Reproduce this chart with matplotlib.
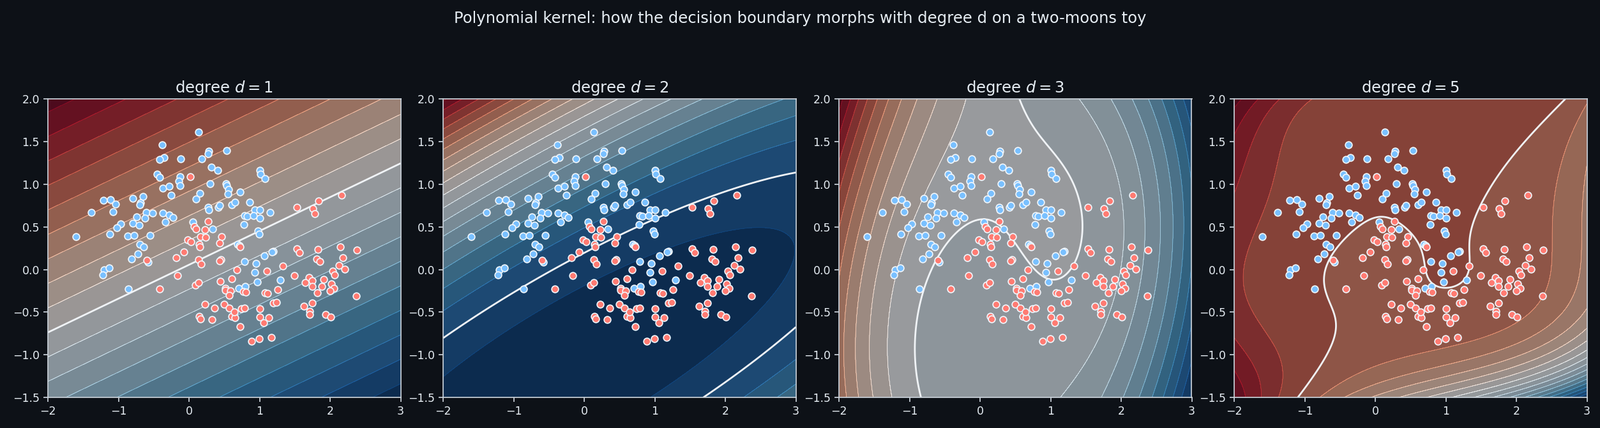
import numpy as np
import matplotlib
matplotlib.use("Agg")
import matplotlib.pyplot as plt

# ---------------- data ----------------
blue_x = [0.139, -0.377, -0.356, -0.413, -0.115, 0.181, 0.281, 0.272, 0.534, 0.32, 0.404, -0.456,
          -0.413, -0.124, -0.142, -0.124, 0.299, 0.522, 0.531, 0.561, 0.549, -0.368, -0.283, -0.25,
          0.157, 0.1, -1.213, -1.116, -1.038, -1.077, -1.382, -0.794, -0.652, -0.685, -0.697, -0.604,
          -0.513, -0.742, -0.622, -0.794, -0.706, -0.971, -1.026, -1.125, -1.599, -0.869, -0.778,
          -0.549, -0.368, -0.283, -0.223, -0.332, 0.269, 0.283, 0.419, 0.437, 0.057, 0.338, -0.70,
          -0.645,
          1.007, 1.017, 1.074, 0.727, 0.609, 0.652, 0.86, 0.929, 1.001, 1.152, 0.785, 0.821, 0.911,
          1.007, 0.781, 0.98, 0.992, 0.688, 0.712,
          -0.724, -0.812, -0.579, -1.207, -1.128, -1.219, -0.857,
          1.195, 1.18, 1.068, 0.79, 0.953, 0.935, 0.971, 1.297, 0.706, 0.799]
blue_y = [1.609, 1.46, 1.31, 1.29, 1.295, 1.295, 1.385, 1.36, 1.395, 1.20, 1.16, 1.12,
          1.078, 1.088, 1.033, 0.983, 1.006, 1.008, 0.985, 0.941, 0.886, 0.953, 0.974, 0.871,
          0.896, 0.824, 0.809, 0.817, 0.767, 0.677, 0.667, 0.834, 0.857, 0.78, 0.76, 0.672,
          0.662, 0.617, 0.605, 0.54, 0.523, 0.535, 0.488, 0.413, 0.385, 0.393, 0.4,
          0.4, 0.662, 0.642, 0.607, 0.555, 0.732, 0.7, 0.729, 0.752, 0.557, 0.475, 0.294,
          0.264,
          1.165, 1.12, 1.066, 0.906, 0.762, 0.792, 0.792, 0.697, 0.7, 0.67, 0.635, 0.625, 0.63,
          0.6, 0.53, 0.455, 0.413, 0.294, 0.279,
          0.184, 0.126, 0.084, -0.005, 0.017, -0.06, -0.227,
          0.214, 0.205, 0.161, 0.094, 0.074, -0.035, -0.143, -0.125, -0.217, -0.197]

red_x = [0.018, 0.072, 0.102, 0.271, 0.229, 0.163, 0.235, 0.464, 0.434, -0.015, 0.024, 0.148, 0.157,
         0.724, 1.532, 1.756, 1.84, 1.786, 2.166, 2.148,
         -0.594, -0.413, -0.178, -0.07, -0.163, 0.139, 0.175, 0.452, 0.434, 0.09, 0.139, 0.443,
         0.519, 0.514, 0.229, 0.362, 0.501, 0.142, 0.166, 0.323,
         0.679, 0.606, 0.585, 0.573, 0.573, 0.609, 0.649, 0.645, 0.727, 0.739, 0.79, 0.772, 0.808,
         1.104, 1.333, 1.529, 1.568, 1.831, 2.38, 1.807, 1.858, 2.184, 2.127, 2.04, 2.208, 2.063,
         1.49, 1.701, 1.647, 1.744, 1.744, 1.912, 1.882, 2.021, 2.052, 2.003, 1.822, 1.261, 1.077,
         1.11, 1.198, 1.243, 1.001, 1.007, 1.134, 1.062, 0.89, 0.998, 1.17, 1.629, 1.75, 1.713,
         1.71, 1.934, 2.012, 2.374]
red_y = [1.086, 0.505, 0.473, 0.565, 0.468, 0.386, 0.376, 0.386, 0.314, 0.349, 0.328, 0.294, 0.264,
         0.264, 0.729, 0.717, 0.807, 0.655, 0.874, 0.264,
         0.109, -0.227, 0.139, 0.206, -0.073, 0.119, 0.064, 0.119, 0.105, -0.185, -0.155, -0.137,
         -0.217, -0.24, -0.407, -0.454, -0.407, -0.549, -0.578, -0.586,
         -0.001, -0.11, -0.247, -0.3, -0.454, -0.549, -0.566, -0.494, -0.666, -0.459, -0.454, -0.26,
         -0.267, -0.02, 0.04, 0.244, 0.199, 0.236, 0.226, 0.126, 0.094, 0.139, 0.049, -0.018,
         0.002, -0.063, -0.073, -0.093, -0.152, -0.13, -0.197, -0.117, -0.197, -0.167, -0.222,
         -0.25, -0.275, -0.237, -0.272, -0.28, -0.394, -0.384, -0.461, -0.554, -0.561, -0.623,
         -0.84, -0.813, -0.797, -0.429, -0.394, -0.491, -0.528, -0.528, -0.558, -0.312]

degrees = [1, 2, 3, 5]
suptitle = "Polynomial kernel: how the decision boundary morphs with degree d on a two-moons toy"

BG = "#0d1117"
BLUE = "#79c0ff"
RED = "#ff7b72"
FG = "#e6edf3"
SPINE = "#c9d1d9"
C_REG = 10.0


# ---------------- small SVM (SMO, libsvm-style) ----------------
def poly_kernel(A, B, d, gamma, coef0=1.0):
    return (gamma * (A @ B.T) + coef0) ** d


def svm_fit(X, y, d, C=1.0, eps=1e-3, max_iter=300000):
    n = len(y)
    gamma = 1.0 / (X.shape[1] * X.var())
    K = poly_kernel(X, X, d, gamma)
    Q = (y[:, None] * y[None, :]) * K
    QD = np.diag(Q).copy()
    a = np.zeros(n)
    G = -np.ones(n)
    for _ in range(max_iter):
        up = ((y > 0) & (a < C)) | ((y < 0) & (a > 0))
        low = ((y > 0) & (a > 0)) | ((y < 0) & (a < C))
        v = -y * G
        vu = np.where(up, v, -np.inf)
        vl = np.where(low, v, np.inf)
        i = int(np.argmax(vu))
        j = int(np.argmin(vl))
        if vu[i] - vl[j] < eps:
            break
        ai, aj = a[i], a[j]
        if y[i] != y[j]:
            quad = max(QD[i] + QD[j] + 2 * Q[i, j], 1e-12)
            delta = (-G[i] - G[j]) / quad
            diff = a[i] - a[j]
            a[i] += delta
            a[j] += delta
            if diff > 0:
                if a[j] < 0:
                    a[j] = 0
                    a[i] = diff
            else:
                if a[i] < 0:
                    a[i] = 0
                    a[j] = -diff
            if diff > 0:
                if a[i] > C:
                    a[i] = C
                    a[j] = C - diff
            else:
                if a[j] > C:
                    a[j] = C
                    a[i] = C + diff
        else:
            quad = max(QD[i] + QD[j] - 2 * Q[i, j], 1e-12)
            delta = (G[i] - G[j]) / quad
            s = a[i] + a[j]
            a[i] -= delta
            a[j] += delta
            if s > C:
                if a[i] > C:
                    a[i] = C
                    a[j] = s - C
            else:
                if a[j] < 0:
                    a[j] = 0
                    a[i] = s
            if s > C:
                if a[j] > C:
                    a[j] = C
                    a[i] = s - C
            else:
                if a[i] < 0:
                    a[i] = 0
                    a[j] = s
        G += Q[:, i] * (a[i] - ai) + Q[:, j] * (a[j] - aj)
    free = (a > 1e-9) & (a < C - 1e-9)
    yG = y * G
    rho = yG[free].mean() if free.any() else 0.0
    return a, rho, gamma


def svm_decision(P, X, y, a, rho, d, gamma):
    sv = a > 1e-9
    out = np.empty(len(P))
    for s in range(0, len(P), 20000):
        Kp = poly_kernel(P[s:s + 20000], X[sv], d, gamma)
        out[s:s + 20000] = Kp @ (a[sv] * y[sv]) - rho
    return out


X0 = np.column_stack([np.r_[blue_x, red_x], np.r_[blue_y, red_y]])
mu, sd = X0.mean(0), X0.std(0)
X = (X0 - mu) / sd
yl = np.r_[-np.ones(len(blue_x)), np.ones(len(red_x))]

gx = np.linspace(-2, 3, 320)
gy = np.linspace(-1.5, 2, 260)
xx, yy = np.meshgrid(gx, gy)
P = (np.column_stack([xx.ravel(), yy.ravel()]) - mu) / sd

# ---------------- figure ----------------
DPI = 125
fig = plt.figure(figsize=(2506 / DPI, 671 / DPI), dpi=DPI, facecolor=BG)
lefts = [75, 694, 1314, 1933]
W, H = 552.5, 468.3
bottom = 671 - 623.3

for k, d in enumerate(degrees):
    ax = fig.add_axes([lefts[k] / 2506, bottom / 671, W / 2506, H / 671])
    ax.set_facecolor(BG)
    a, rho, gamma = svm_fit(X, yl, d, C=C_REG)
    Z = svm_decision(P, X, yl, a, rho, d, gamma).reshape(xx.shape)
    cf = ax.contourf(xx, yy, Z, levels=20, cmap="RdBu", alpha=0.6)
    ax.contour(xx, yy, Z, levels=cf.levels, cmap="RdBu", linewidths=0.5, alpha=0.85)
    ax.contour(xx, yy, Z, levels=[0], colors="#f0f3f6", linewidths=1.6)
    ax.scatter(blue_x, blue_y, s=38, c=BLUE, edgecolors="#f0f6fc", linewidths=1.0, zorder=3)
    ax.scatter(red_x, red_y, s=38, c=RED, edgecolors="#f0f6fc", linewidths=1.0, zorder=3)
    ax.set_xlim(-2, 3)
    ax.set_ylim(-1.5, 2)
    ax.set_xticks([-2, -1, 0, 1, 2, 3])
    ax.set_yticks([-1.5, -1.0, -0.5, 0.0, 0.5, 1.0, 1.5, 2.0])
    ax.set_title(f"degree $d={d}$", color=FG, fontsize=14, pad=6)
    ax.tick_params(colors=SPINE, labelcolor=FG, labelsize=10, width=1.0, length=4)
    for sp in ax.spines.values():
        sp.set_color(SPINE)
        sp.set_linewidth(1.0)

fig.suptitle(suptitle, color=FG, fontsize=14, y=0.975)
fig.savefig("out.png", dpi=DPI, facecolor=BG)
